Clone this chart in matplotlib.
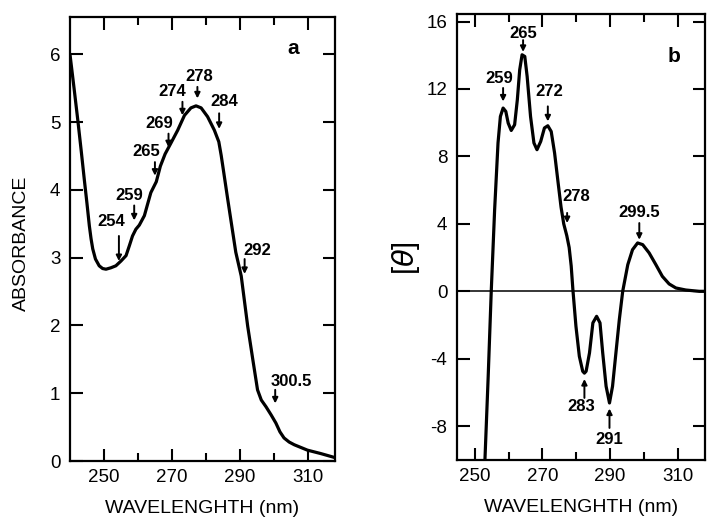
import matplotlib
matplotlib.use("Agg")
import matplotlib.pyplot as plt
from matplotlib.ticker import FixedLocator

plt.rcParams['font.family'] = ['Liberation Sans', 'DejaVu Sans']
plt.rcParams['axes.unicode_minus'] = False

# ---- Panel a: absorbance spectrum ----
wl_a = [240.0, 241.2, 242.3, 243.3, 244.2, 245.0, 245.7, 246.2, 246.7, 247.5, 248.6,
        249.6, 250.6, 252.0, 253.5, 255.0, 256.5, 257.5, 258.4, 259.4, 260.4,
        261.9, 262.9, 263.8, 265.4, 266.6, 268.0, 269.6, 271.7, 273.7, 275.6,
        277.1, 278.6, 280.5, 282.5, 283.8, 284.5, 285.1, 286.4, 288.8, 290.4,
        292.3, 293.8, 295.2, 296.3, 297.7, 299.2, 300.6, 301.8, 303.0, 304.5,
        306.0, 309.9, 313.8, 318.0]
abs_a = [6.00, 5.50, 5.03, 4.58, 4.16, 3.80, 3.47, 3.28, 3.13, 2.98, 2.88,
         2.84, 2.83, 2.85, 2.88, 2.95, 3.03, 3.18, 3.32, 3.42, 3.48,
         3.62, 3.80, 3.96, 4.12, 4.35, 4.53, 4.68, 4.88, 5.10, 5.21,
         5.24, 5.21, 5.08, 4.88, 4.71, 4.51, 4.31, 3.87, 3.08, 2.73,
         1.99, 1.50, 1.05, 0.90, 0.80, 0.68, 0.56, 0.43, 0.34, 0.28,
         0.24, 0.16, 0.11, 0.05]

peak_lab_a = ['254', '259', '265', '269', '274', '278', '284', '292', '300.5']
peak_wl_a = [254.4, 258.9, 265.0, 269.0, 273.1, 277.5, 283.9, 291.4, 300.4]
arrow_a = [(3.32, 2.95), (3.77, 3.55), (4.41, 4.21), (4.83, 4.63), (5.30, 5.10),
           (5.52, 5.35), (5.13, 4.90), (2.98, 2.76), (1.05, 0.85)]
text_a = [(252.0, 3.54), (257.4, 3.92), (262.4, 4.56), (266.2, 4.98), (270.0, 5.45),
          (278.0, 5.68), (285.5, 5.30), (295.2, 3.10), (305.0, 1.17)]

# ---- Panel b: CD spectrum ----
wl_b = [253.0, 254.0, 254.9, 255.9, 256.9, 257.6, 258.4, 259.2, 259.9, 260.8,
        261.8, 262.6, 263.3, 264.0, 264.8, 265.5, 266.5, 267.5, 268.4, 269.5,
        270.6, 271.6, 272.6, 273.6, 274.6, 275.5, 276.3, 277.2, 277.9, 278.5,
        279.0, 279.9, 280.9, 281.9, 282.4, 282.9, 283.9, 284.9, 286.0, 287.0,
        287.8, 288.8, 289.8, 290.7, 291.7, 292.7, 293.7, 295.2, 296.6, 298.1,
        299.6, 301.5, 303.5, 305.4, 307.4, 309.4, 312.3, 316.3, 318.0]
theta_b = [-10.2, -5.04, 0.0, 4.84, 8.80, 10.37, 10.87, 10.67, 9.98, 9.54,
           9.88, 11.36, 13.14, 14.03, 13.93, 12.74, 10.37, 8.80, 8.40, 8.89,
           9.69, 9.82, 9.48, 8.20, 6.50, 5.00, 4.00, 3.30, 2.60, 1.50,
           0.10, -2.07, -3.85, -4.74, -4.85, -4.74, -3.65, -1.87, -1.48, -1.87,
           -3.65, -5.63, -6.62, -5.63, -3.65, -1.68, 0.0, 1.58, 2.47, 2.87,
           2.77, 2.28, 1.58, 0.89, 0.44, 0.20, 0.08, 0.0, 0.0]

peak_lab_b = ['259', '265', '272', '278', '299.5', '283', '291']
peak_wl_b = [258.4, 264.3, 271.6, 277.3, 298.6, 282.4, 289.8]
arrow_b = [(12.06, 11.26), (14.9, 14.2), (10.97, 10.08), (4.65, 4.05), (4.05, 3.06),
           (-6.32, -5.20), (-8.1, -6.95)]
text_b = [(257.4, 12.6), (264.3, 15.3), (272.1, 11.86), (279.9, 5.63), (298.6, 4.65),
          (281.4, -6.82), (289.8, -8.79)]

fig = plt.figure(figsize=(7.09, 5.17), dpi=100)
axa = fig.add_axes([0.0987, 0.1083, 0.3738, 0.8587])
axb = fig.add_axes([0.6446, 0.1103, 0.3498, 0.8627])

LW = 2.3
ann_fs = 12
tick_fs = 13.5

def style(ax):
    for s in ax.spines.values():
        s.set_linewidth(1.6)
    ax.tick_params(which='both', direction='in', top=True, right=True,
                   width=1.5, labelsize=tick_fs)
    ax.tick_params(which='major', length=9)
    ax.tick_params(which='minor', length=6)
    ax.tick_params(axis='x', pad=6)
    ax.tick_params(axis='y', pad=7)
    ax.xaxis.set_major_locator(FixedLocator([250, 270, 290, 310]))
    ax.xaxis.set_minor_locator(FixedLocator([260, 280, 300]))

def arrows(ax, labs, xs, arr, txt):
    for lab, x, (y0, y1), (tx, ty) in zip(labs, xs, arr, txt):
        ax.annotate('', xy=(x, y1), xytext=(x, y0),
                    arrowprops=dict(arrowstyle='-|>', color='k', lw=1.4,
                                    mutation_scale=8, shrinkA=0, shrinkB=0))
        ax.text(tx, ty, lab, ha='center', va='center', fontsize=ann_fs,
                fontweight='bold')

# Panel a
axa.plot(wl_a, abs_a, color='k', lw=LW, solid_joinstyle='round', solid_capstyle='round')
axa.set_xlim(240, 318)
axa.set_ylim(0, 6.55)
style(axa)
axa.yaxis.set_major_locator(FixedLocator([0, 1, 2, 3, 4, 5, 6]))
axa.set_xlabel('WAVELENGHTH (nm)', fontsize=14, labelpad=10)
axa.set_ylabel('ABSORBANCE', fontsize=14)
axa.yaxis.set_label_coords(-0.15, 0.49)
arrows(axa, peak_lab_a, peak_wl_a, arrow_a, text_a)
axa.text(305.8, 6.08, 'a', ha='center', va='center', fontsize=15, fontweight='bold')

# Panel b
axb.axhline(0, color='k', lw=1.1)
axb.plot(wl_b, theta_b, color='k', lw=LW, solid_joinstyle='round', solid_capstyle='round')
axb.set_xlim(244.8, 318)
axb.set_ylim(-10, 16.45)
style(axb)
axb.yaxis.set_major_locator(FixedLocator([-8, -4, 0, 4, 8, 12, 16]))
axb.set_xlabel('WAVELENGHTH (nm)', fontsize=14, labelpad=10)
axb.set_ylabel(r'[$\theta$]', fontsize=21)
axb.yaxis.set_label_coords(-0.14, 0.453)
arrows(axb, peak_lab_b, peak_wl_b, arrow_b, text_b)
axb.text(308.9, 13.93, 'b', ha='center', va='center', fontsize=15, fontweight='bold')

fig.savefig('out.png', dpi=100)
